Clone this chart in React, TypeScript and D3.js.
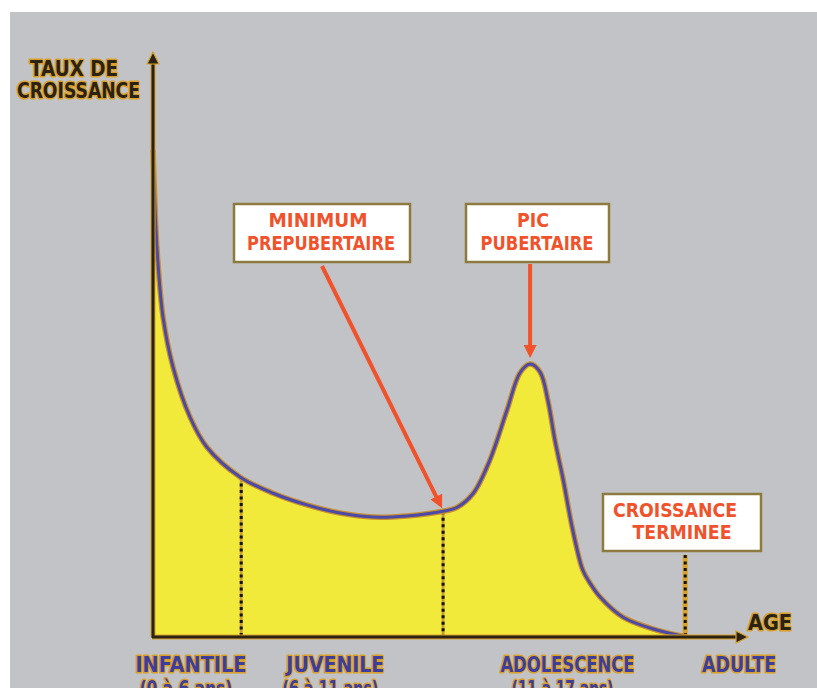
import React from 'react';
import * as d3 from 'd3';

// courbe de vitesse de croissance (unités arbitraires)
const stageX = [0, 0.5, 0.84, 1.69, 3.38, 6.25, 9.12, 14.7, 20.3, 26.0, 31.6, 37.2, 42.9, 49.0, 51.4, 54.1, 56.9, 59.8, 62.0, 63.7, 65.4, 66.7, 67.9, 69.3, 70.9, 72.6, 73.8, 75.5, 79.4, 85.1, 90.2];
const growthRate = [83.7, 69.9, 64.3, 55.0, 46.4, 37.8, 32.6, 27.5, 24.7, 22.7, 21.3, 20.6, 20.8, 21.6, 22.3, 24.7, 30.4, 39.0, 45.4, 46.9, 45.5, 40.7, 33.8, 27.0, 18.4, 11.5, 9.3, 6.9, 3.4, 1.2, 0];

const phaseNames = ['INFANTILE', 'JUVENILE', 'ADOLESCENCE', 'ADULTE'];
const phaseAges = ['(0 à 6 ans)', '(6 à 11 ans)', '(11 à 17 ans)', ''];
const phaseCenter = [6.4, 30.8, 70.0, 99.0];

const boundaryX = [14.9, 49.0, 89.9];
const boundaryTop = [27.5, 21.6, 14.1];

const W = 817;
const H = 688;

const halo = '#d9a02a';
const dark = '#2a2214';
const blue = '#3d3d9c';
const red = '#f0522c';

const App: React.FC = () => {
  const x = d3.scaleLinear().domain([0, 100]).range([153, 745]);
  const y = d3.scaleLinear().domain([0, 100]).range([637, 55]);

  const pts = stageX.map((d, i) => [d, growthRate[i]] as [number, number]);

  const curve = d3.curveCatmullRom.alpha(0.5);

  const line = d3
    .line<[number, number]>()
    .x((d) => x(d[0]))
    .y((d) => y(d[1]))
    .curve(curve);

  const area = d3
    .area<[number, number]>()
    .x((d) => x(d[0]))
    .y0(y(0))
    .y1((d) => y(d[1]))
    .curve(curve);

  const x0 = x(0);
  const yBase = y(0);

  const font = '"DejaVu Sans", sans-serif';

  const haloText = (
    t: string,
    cx: number,
    by: number,
    len: number,
    size: number,
    fill: string,
    key: string
  ) => (
    <text
      key={key}
      x={cx}
      y={by}
      textAnchor="middle"
      fontFamily={font}
      fontWeight="bold"
      fontSize={size}
      textLength={len}
      lengthAdjust="spacingAndGlyphs"
      fill={fill}
      stroke={halo}
      strokeWidth={3}
      strokeLinejoin="round"
      style={{ paintOrder: 'stroke' }}
    >
      {t}
    </text>
  );

  const boxText = (t: string, cx: number, by: number, len: number, key: string) => (
    <text
      key={key}
      x={cx}
      y={by}
      textAnchor="middle"
      fontFamily={font}
      fontWeight="bold"
      fontSize={19}
      textLength={len}
      lengthAdjust="spacingAndGlyphs"
      fill={red}
    >
      {t}
    </text>
  );

  const phaseLen = [111, 98, 134, 74];
  const ageLen = [93, 96, 102, 0];

  // flèches
  const minPt = [x(49.0), y(21.6)];
  const peakPt = [x(63.7), y(46.9) - 6];

  const arrowHead = (tx: number, ty: number, fx: number, fy: number, size: number) => {
    const a = Math.atan2(ty - fy, tx - fx);
    const p1 = [tx - size * Math.cos(a) + (size / 2) * Math.sin(a), ty - size * Math.sin(a) - (size / 2) * Math.cos(a)];
    const p2 = [tx - size * Math.cos(a) - (size / 2) * Math.sin(a), ty - size * Math.sin(a) + (size / 2) * Math.cos(a)];
    return `M${tx},${ty}L${p1[0]},${p1[1]}L${p2[0]},${p2[1]}Z`;
  };

  return (
    <svg
      width={W}
      height={H}
      style={{ position: 'absolute', left: 0, top: 0, display: 'block' }}
    >
      <rect x={0} y={0} width={W} height={H} fill="#ffffff" />
      <rect x={10} y={12} width={W - 10} height={H - 12} fill="#c2c3c7" />

      {/* surface jaune */}
      <path d={area(pts) || ''} fill="#f2ea3a" />

      {/* lignes pointillées */}
      {boundaryX.map((b, i) => (
        <g key={'b' + i}>
          <line x1={x(b)} x2={x(b)} y1={y(boundaryTop[i])} y2={yBase} stroke={i === 2 ? halo : '#c8a03a'} strokeWidth={i === 2 ? 5 : 3} />
          <line x1={x(b)} x2={x(b)} y1={y(boundaryTop[i])} y2={yBase} stroke="#111" strokeWidth={3} strokeDasharray="3 3.5" />
        </g>
      ))}

      {/* courbe */}
      <path d={line(pts) || ''} fill="none" stroke="#c88f2e" strokeWidth={5.5} strokeLinejoin="round" />
      <path d={line(pts) || ''} fill="none" stroke="#4b4aa8" strokeWidth={3} strokeLinejoin="round" />

      {/* axes */}
      <g>
        <line x1={x0} x2={x0} y1={yBase} y2={y(100) + 4} stroke={halo} strokeWidth={5} />
        <line x1={x(0) - 1} x2={x(100) - 4} y1={yBase} y2={yBase} stroke={halo} strokeWidth={5} />
        <line x1={x0} x2={x0} y1={yBase + 1} y2={y(100) + 4} stroke={dark} strokeWidth={3} />
        <line x1={x(0) - 1} x2={x(100) - 4} y1={yBase} y2={yBase} stroke={dark} strokeWidth={3} />
        <path d={`M${x0},${y(100) - 3}L${x0 - 6},${y(100) + 9}L${x0 + 6},${y(100) + 9}Z`} fill={dark} stroke={halo} strokeWidth={1.2} />
        <path d={`M${x(100) + 3},${yBase}L${x(100) - 9},${yBase - 6}L${x(100) - 9},${yBase + 6}Z`} fill={dark} stroke={halo} strokeWidth={1.2} />
      </g>

      {/* titres d'axes */}
      {haloText('TAUX DE', 74, 76, 88, 21, dark, 't1')}
      {haloText('CROISSANCE', 78.5, 98, 123, 21, dark, 't2')}
      {haloText('AGE', 770, 630, 44, 22, dark, 't3')}

      {/* phases */}
      {phaseNames.map((p, i) => haloText(p, x(phaseCenter[i]), 672, phaseLen[i], 21, blue, 'p' + i))}
      {phaseAges.map((p, i) =>
        p ? haloText(p, x(phaseCenter[i]) - 5, 696, ageLen[i], 21, blue, 'a' + i) : null
      )}

      {/* flèches rouges */}
      <line x1={322} y1={266} x2={minPt[0] - 4} y2={minPt[1] - 9} stroke={red} strokeWidth={4} />
      <path d={arrowHead(minPt[0] - 1, minPt[1] - 3, 322, 266, 13)} fill={red} />
      <line x1={peakPt[0]} y1={264} x2={peakPt[0]} y2={peakPt[1] - 8} stroke={red} strokeWidth={4} />
      <path d={arrowHead(peakPt[0], peakPt[1], peakPt[0], 264, 13)} fill={red} />

      {/* boîtes */}
      <rect x={234} y={204} width={176} height={58} fill="#ffffff" stroke="#8c7a3e" strokeWidth={2.5} />
      {boxText('MINIMUM', 318, 227, 99, 'm1')}
      {boxText('PREPUBERTAIRE', 321, 250, 148, 'm2')}

      <rect x={466} y={204} width={143} height={58} fill="#ffffff" stroke="#8c7a3e" strokeWidth={2.5} />
      {boxText('PIC', 533, 227, 32, 'k1')}
      {boxText('PUBERTAIRE', 537, 250, 113, 'k2')}

      <rect x={603} y={494} width={158} height={57} fill="#ffffff" stroke="#8c7a3e" strokeWidth={2.5} />
      {boxText('CROISSANCE', 675, 517, 124, 'c1')}
      {boxText('TERMINEE', 682, 539, 99, 'c2')}
    </svg>
  );
};

export default App;
